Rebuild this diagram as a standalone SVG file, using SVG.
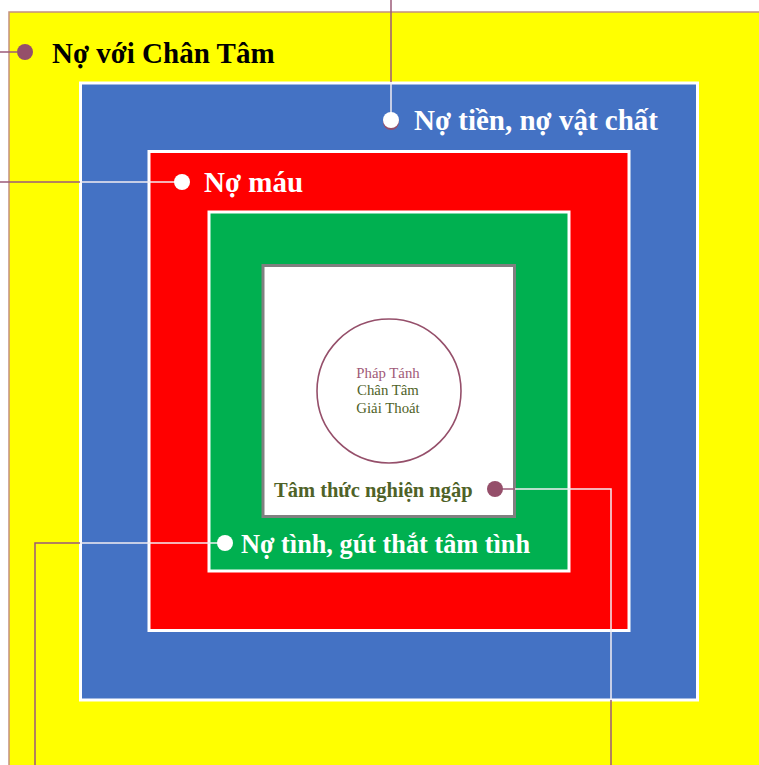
<svg xmlns="http://www.w3.org/2000/svg" width="759" height="765" viewBox="0 0 759 765">
<style>
.lbl{font-family:"Liberation Serif","Times New Roman",serif;font-weight:bold;font-size:29px}
.w{fill:#ffffff}
.sm{font-family:"Liberation Serif","Times New Roman",serif;font-size:14.8px;text-anchor:middle}
.lp{stroke:#9b5a78;stroke-width:1.5;fill:none}
.lw{stroke:#f2eef2;stroke-width:1.5;fill:none}
</style>
<rect width="759" height="765" fill="#ffffff"/>
<g id="yellow">
<rect x="9" y="12" width="760" height="770" fill="#ffff00" stroke="#c49080" stroke-width="1.5"/>
</g>
<g id="blue">
<rect x="80.5" y="83" width="617" height="617" fill="#4472c4" stroke="#ffffff" stroke-width="3"/>
</g>
<g id="red">
<rect x="149" y="151.5" width="480" height="479" fill="#ff0000" stroke="#ffffff" stroke-width="3"/>
</g>
<g id="green">
<rect x="209" y="212" width="360" height="359" fill="#00b050" stroke="#ffffff" stroke-width="3"/>
</g>
<g id="core">
<rect x="263" y="265.5" width="251.5" height="251" fill="#ffffff" stroke="#808080" stroke-width="3"/>
<circle cx="389" cy="391" r="72" fill="none" stroke="#954f6a" stroke-width="1.6"/>
<text class="sm" x="388" y="378" fill="#a05a78">Pháp Tánh</text>
<text class="sm" x="388" y="395" fill="#4f6228">Chân Tâm</text>
<text class="sm" x="388" y="413" fill="#4f6228">Giải Thoát</text>
</g>
<g id="connectors">
<path class="lp" d="M391 0V82"/>
<path class="lw" d="M391 82V118"/>
<path class="lp" d="M0 52H17"/>
<path class="lp" d="M0 182H80"/>
<path class="lw" d="M80 182H180"/>
<path class="lp" d="M35 765V543H80"/>
<path class="lw" d="M80 543H222"/>
<path class="lp" d="M497 489H515"/>
<path class="lw" d="M515 489H611V700"/>
<path class="lp" d="M611 700V765"/>
</g>
<g id="label-chan-tam">
<circle cx="25" cy="52" r="8" fill="#954f6a"/>
<text class="lbl" x="52" y="63" fill="#000000">Nợ với Chân Tâm</text>
</g>
<g id="label-tien">
<circle cx="391" cy="122" r="8" fill="#954f6a"/>
<circle cx="391" cy="120" r="8" fill="#ffffff"/>
<text class="lbl w" x="414" y="130">Nợ tiền, nợ vật chất</text>
</g>
<g id="label-mau">
<circle cx="182" cy="182" r="8" fill="#ffffff"/>
<text class="lbl w" x="204" y="192">Nợ máu</text>
</g>
<g id="label-tinh">
<circle cx="225" cy="543" r="8" fill="#ffffff"/>
<text class="lbl w" x="241" y="553" style="font-size:28px" textLength="289" lengthAdjust="spacingAndGlyphs">Nợ tình, gút thắt tâm tình</text>
</g>
<g id="label-nghien">
<circle cx="495" cy="489" r="8" fill="#954f6a"/>
<text x="274" y="497" fill="#4f6228" style="font-family:'Liberation Serif','Times New Roman',serif;font-weight:bold;font-size:20.5px">Tâm thức nghiện ngập</text>
</g>
</svg>
